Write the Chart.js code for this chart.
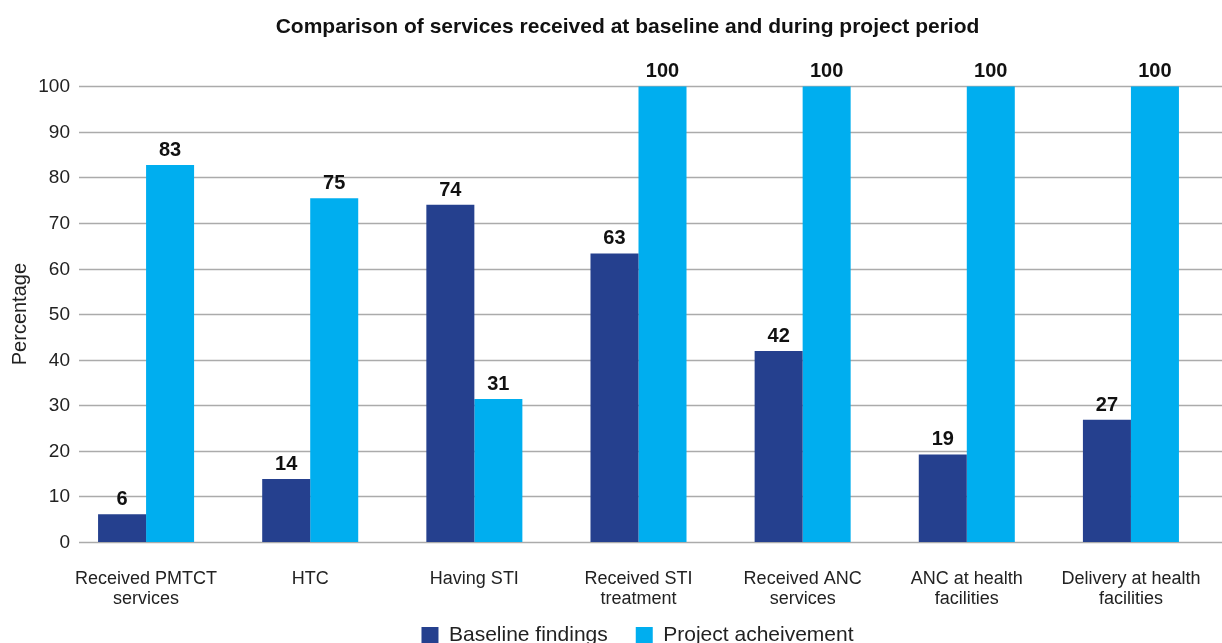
<!DOCTYPE html>
<html>
<head>
<meta charset="utf-8">
<script src="https://cdn.jsdelivr.net/npm/chart.js@4"></script>
<style>
  html, body { margin: 0; padding: 0; background: #fff; overflow: hidden; }
  #chart { display: block; }
</style>
</head>
<body>
<canvas id="chart" width="1222" height="673"></canvas>
<script>
const categories = [
    ['Received PMTCT', 'services'],
    'HTC',
    'Having STI',
    ['Received STI', 'treatment'],
    ['Received ANC', 'services'],
    ['ANC at health', 'facilities'],
    ['Delivery at health', 'facilities']
];
const baselineValues = [6.1, 13.8, 74.0, 63.3, 41.9, 19.2, 26.8];
const projectValues = [82.7, 75.4, 31.4, 100, 100, 100, 100];
const seriesNames = ['Baseline findings', 'Project acheivement'];
const yTicks = [0, 10, 20, 30, 40, 50, 60, 70, 80, 90, 100];

const FONT = '"Liberation Sans", Arial, sans-serif';
const TEXT = '#222';

// grid lines + y tick labels from the y scale (the original's grid starts right of the labels)
const gridPlugin = {
    id: 'grid',
    beforeDatasetsDraw(chart) {
        const y = chart.scales.y;
        const ctx = chart.ctx;
        ctx.save();
        ctx.strokeStyle = '#ababab';
        ctx.lineWidth = 1.3;
        ctx.font = '19px ' + FONT;
        ctx.fillStyle = TEXT;
        ctx.textAlign = 'right';
        ctx.textBaseline = 'middle';
        yTicks.forEach(function (v) {
            const py = Math.round(y.getPixelForValue(v)) + 0.5;
            ctx.beginPath();
            ctx.moveTo(79, py);
            ctx.lineTo(chart.width, py);
            ctx.stroke();
            ctx.fillText(String(v), 70, py);
        });
        ctx.restore();
    }
};

// value labels above bars
const valueLabels = {
    id: 'valueLabels',
    afterDatasetsDraw(chart) {
        const ctx = chart.ctx;
        ctx.save();
        ctx.font = 'bold 20px ' + FONT;
        ctx.fillStyle = '#111';
        ctx.textAlign = 'center';
        ctx.textBaseline = 'alphabetic';
        chart.data.datasets.forEach(function (ds, i) {
            chart.getDatasetMeta(i).data.forEach(function (bar, j) {
                ctx.fillText(String(Math.round(ds.data[j])), bar.x, bar.y - 9);
            });
        });
        ctx.restore();
    }
};

// nudge title and legend to where the original has them
const nudgeBoxes = {
    id: 'nudgeBoxes',
    afterLayout(chart) {
        chart.legend.left += 31;
        chart.legend.right += 31;
        chart.legend.top -= 17;
        chart.legend.bottom -= 17;
        chart.titleBlock.left += 21;
        chart.titleBlock.right += 21;
    }
};

Chart.defaults.font.family = FONT;
Chart.defaults.color = TEXT;

new Chart(document.getElementById('chart'), {
    type: 'bar',
    data: {
        labels: categories,
        datasets: [
            {
                label: seriesNames[0],
                data: baselineValues,
                backgroundColor: 'rgb(37, 64, 142)'
            },
            {
                label: seriesNames[1],
                data: projectValues,
                backgroundColor: 'rgb(0, 174, 239)'
            }
        ]
    },
    options: {
        responsive: false,
        animation: false,
        layout: {
            padding: { left: 0, right: 9, top: 0, bottom: 0 }
        },
        datasets: {
            bar: {
                categoryPercentage: 0.585,
                barPercentage: 1.0
            }
        },
        plugins: {
            title: {
                display: true,
                text: 'Comparison of services received at baseline and during project period',
                color: '#111',
                font: { size: 21, weight: 'bold', lineHeight: 1.2 },
                padding: { top: 15, bottom: 46 }
            },
            legend: {
                position: 'bottom',
                labels: {
                    boxWidth: 17,
                    boxHeight: 17,
                    padding: 28,
                    color: TEXT,
                    font: { size: 21 }
                }
            },
            tooltip: { enabled: false }
        },
        scales: {
            x: {
                grid: { display: false, drawTicks: false },
                border: { display: false },
                ticks: {
                    padding: 27,
                    color: TEXT,
                    font: { size: 18, lineHeight: 1.11 },
                    maxRotation: 0,
                    autoSkip: false
                },
                afterFit(scale) {
                    scale.height = 72;
                    scale.paddingLeft = 0;
                    scale.paddingRight = 0;
                }
            },
            y: {
                min: 0,
                max: 100,
                grid: { display: false, drawTicks: false },
                border: { display: false },
                ticks: {
                    stepSize: 10,
                    display: false
                },
                title: {
                    display: true,
                    text: 'Percentage',
                    color: TEXT,
                    font: { size: 20 },
                    padding: { top: 8, bottom: 0 }
                },
                afterFit(scale) { scale.width = 64; }
            }
        }
    },
    plugins: [gridPlugin, valueLabels, nudgeBoxes]
});
</script>
</body>
</html>
